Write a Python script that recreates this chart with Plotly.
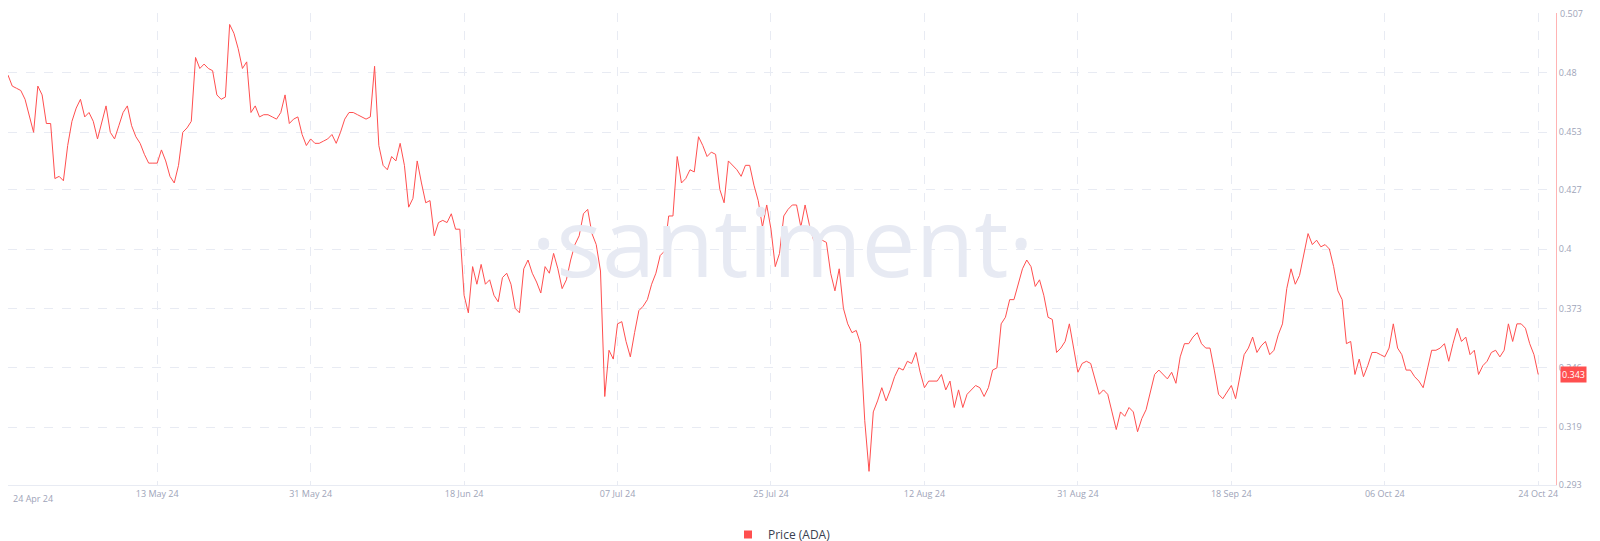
import pandas as pd
import plotly.graph_objects as go

# ADA price, 12-hour samples
price = [
    0.479, 0.474, 0.473, 0.472, 0.468, 0.460, 0.453, 0.474, 0.470, 0.457,
    0.457, 0.432, 0.433, 0.431, 0.447, 0.458, 0.464, 0.468, 0.460, 0.462,
    0.458, 0.450, 0.458, 0.465, 0.453, 0.450, 0.456, 0.462, 0.465, 0.456,
    0.451, 0.448, 0.443, 0.439, 0.439, 0.439, 0.445, 0.440, 0.433, 0.430,
    0.438, 0.453, 0.455, 0.458, 0.487, 0.482, 0.484, 0.482, 0.481, 0.470,
    0.468, 0.469, 0.502, 0.498, 0.491, 0.482, 0.485, 0.462, 0.465, 0.460,
    0.461, 0.461, 0.460, 0.459, 0.462, 0.470, 0.457, 0.459, 0.460, 0.452,
    0.447, 0.450, 0.448, 0.448, 0.449, 0.450, 0.452, 0.448, 0.453, 0.459,
    0.462, 0.462, 0.461, 0.460, 0.459, 0.460, 0.483, 0.447, 0.438, 0.436,
    0.442, 0.440, 0.448, 0.438, 0.419, 0.423, 0.440, 0.430, 0.421, 0.422,
    0.406, 0.412, 0.413, 0.412, 0.416, 0.409, 0.409, 0.379, 0.371, 0.392,
    0.384, 0.393, 0.384, 0.386, 0.379, 0.376, 0.387, 0.389, 0.384, 0.373,
    0.371, 0.391, 0.395, 0.389, 0.385, 0.380, 0.392, 0.389, 0.398, 0.391,
    0.382, 0.386, 0.395, 0.402, 0.406, 0.416, 0.418, 0.407, 0.402, 0.390,
    0.333, 0.354, 0.350, 0.366, 0.367, 0.358, 0.351, 0.362, 0.372, 0.374,
    0.377, 0.384, 0.389, 0.397, 0.399, 0.415, 0.415, 0.442, 0.430, 0.432,
    0.436, 0.435, 0.451, 0.447, 0.442, 0.444, 0.443, 0.427, 0.421, 0.440,
    0.438, 0.436, 0.433, 0.438, 0.438, 0.429, 0.422, 0.410, 0.420, 0.409,
    0.392, 0.398, 0.415, 0.418, 0.420, 0.420, 0.410, 0.420, 0.411, 0.404,
    0.404, 0.404, 0.403, 0.389, 0.381, 0.391, 0.373, 0.366, 0.362, 0.363,
    0.357, 0.322, 0.299, 0.326, 0.331, 0.337, 0.331, 0.336, 0.342, 0.346,
    0.345, 0.349, 0.348, 0.353, 0.344, 0.337, 0.340, 0.340, 0.340, 0.343,
    0.336, 0.340, 0.328, 0.336, 0.328, 0.334, 0.336, 0.338, 0.337, 0.333,
    0.337, 0.345, 0.346, 0.366, 0.369, 0.377, 0.377, 0.384, 0.391, 0.395,
    0.392, 0.383, 0.386, 0.379, 0.369, 0.368, 0.353, 0.355, 0.358, 0.366,
    0.355, 0.344, 0.348, 0.349, 0.348, 0.341, 0.334, 0.336, 0.334, 0.326,
    0.318, 0.326, 0.324, 0.328, 0.326, 0.317, 0.323, 0.327, 0.335, 0.343,
    0.345, 0.343, 0.341, 0.344, 0.339, 0.351, 0.357, 0.357, 0.360, 0.362,
    0.357, 0.355, 0.355, 0.345, 0.334, 0.332, 0.335, 0.338, 0.332, 0.342,
    0.352, 0.355, 0.360, 0.353, 0.356, 0.358, 0.352, 0.354, 0.361, 0.366,
    0.382, 0.391, 0.384, 0.388, 0.398, 0.407, 0.402, 0.404, 0.401, 0.402,
    0.400, 0.392, 0.381, 0.377, 0.357, 0.358, 0.343, 0.350, 0.342, 0.347,
    0.353, 0.353, 0.352, 0.351, 0.355, 0.366, 0.355, 0.352, 0.345, 0.345,
    0.342, 0.340, 0.337, 0.345, 0.354, 0.354, 0.355, 0.357, 0.349, 0.357,
    0.364, 0.358, 0.360, 0.352, 0.354, 0.343, 0.347, 0.349, 0.353, 0.354,
    0.351, 0.354, 0.366, 0.358, 0.366, 0.366, 0.364, 0.357, 0.352, 0.343,
]
start = "2024-04-25 12:00"
dates = pd.date_range(start, periods=len(price), freq="12h")

tick_dates = ["2024-05-13", "2024-05-31", "2024-06-18", "2024-07-06", "2024-07-24",
              "2024-08-11", "2024-08-29", "2024-09-16", "2024-10-04", "2024-10-22"]
tick_text = ["13 May 24", "31 May 24", "18 Jun 24", "07 Jul 24", "25 Jul 24",
             "12 Aug 24", "31 Aug 24", "18 Sep 24", "06 Oct 24", "24 Oct 24"]
y_ticks = [0.293, 0.319, 0.346, 0.373, 0.4, 0.427, 0.453, 0.48, 0.507]

red = "#ff4f4f"
grid = "#e8ebf3"
label_col = "#9ea4b8"

fig = go.Figure()
fig.add_trace(go.Scatter(x=dates, y=price, mode="lines", line=dict(color=red, width=1),
                         showlegend=False, hoverinfo="x+y"))
fig.add_trace(go.Scatter(x=[None], y=[None], mode="markers", name="Price (ADA)",
                         marker=dict(symbol="square", size=8, color=red)))

fig.update_layout(
    width=1600, height=541,
    margin=dict(l=0, r=52, t=5, b=56),
    plot_bgcolor="white", paper_bgcolor="white",
    font=dict(family="Open Sans, Roboto, sans-serif", color=label_col, size=9),
    legend=dict(orientation="h", x=0.5, xanchor="center", y=-0.075, yanchor="top",
                font=dict(size=12, color="#3a3f50")),
    xaxis=dict(range=["2024-04-25 12:00", "2024-10-24 02:00"], tickvals=tick_dates,
               ticktext=tick_text, showgrid=True, gridcolor=grid, griddash="dash",
               zeroline=False, showline=True, linecolor=grid, ticks=""),
    yaxis=dict(side="right", range=[0.2928, 0.5072], tickvals=y_ticks,
               ticktext=[str(v) for v in y_ticks], showgrid=True, gridcolor=grid,
               griddash="dash", zeroline=False, showline=True, linecolor="#ffb3b3",
               ticks=""),
    annotations=[
        dict(text="·santiment·", x=0.5, y=0.52, xref="paper", yref="paper",
             showarrow=False, font=dict(size=96, color="#e7eaf3", family="Open Sans")),
        dict(text="24 Apr 24", x=0.002, y=-0.01, xref="paper", yref="paper",
             xanchor="left", yanchor="top", showarrow=False,
             font=dict(size=9, color=label_col)),
        dict(text=str(y_ticks[-1]), x=1.0, y=y_ticks[-1], xref="paper", yref="y",
             xanchor="left", yanchor="middle", showarrow=False, xshift=2,
             font=dict(size=9, color=label_col)),
        dict(text=str(price[-1]), x=1.0, y=price[-1], xref="paper", yref="y",
             xanchor="left", showarrow=False, bgcolor=red,
             font=dict(size=9, color="white"), borderpad=1, xshift=4),
    ],
)

fig.write_html("out.html")
